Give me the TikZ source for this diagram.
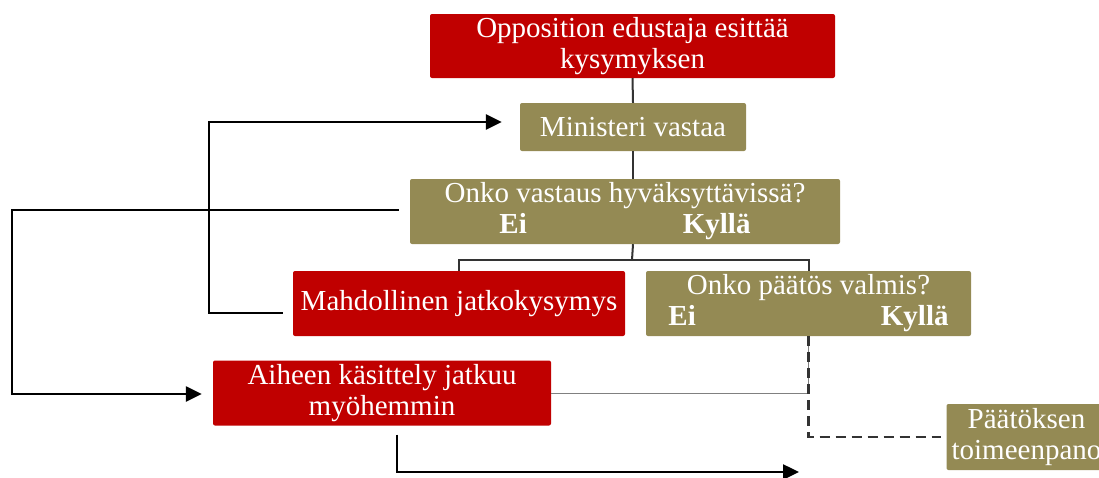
\documentclass[tikz,border=0pt]{standalone}
\usepackage{fontspec}
\setmainfont{Liberation Serif}
\usetikzlibrary{arrows.meta,calc}
\definecolor{boxred}{HTML}{C00000}
\definecolor{boxolive}{HTML}{948A54}
\definecolor{linegray}{HTML}{333333}
\begin{document}
\begin{tikzpicture}[x=1pt, y=-1pt,
    redbox/.style={fill=boxred, text=white, rounded corners=2pt, align=center,
        inner sep=0pt, font=\fontsize{29}{31}\selectfont},
    olivebox/.style={redbox, fill=boxolive},
    tree/.style={linegray, line width=2pt},
    loop/.style={black, line width=2.5pt, -{Triangle[length=16pt,width=15pt]}}]
    \useasboundingbox (0,0) rectangle (1099,477);

    % boxes
    \node[redbox, minimum width=405pt, minimum height=64pt] (opp) at (632.5,46)
        {Opposition edustaja esittää\\kysymyksen};
    \node[olivebox, minimum width=226pt, minimum height=48pt] (min) at (633,127)
        {Ministeri vastaa};
    \node[olivebox, minimum width=430pt, minimum height=65pt] (acc) at (625,211.5)
        {Onko vastaus hyväksyttävissä?\\\textbf{Ei}\hspace{156pt}\textbf{Kyllä}};
    \node[redbox, minimum width=332pt, minimum height=65pt] (follow) at (459,303.5)
        {Mahdollinen jatkokysymys};
    \node[olivebox, minimum width=325pt, minimum height=65pt] (ready) at (808.5,303.5)
        {Onko päätös valmis?\\\textbf{Ei}\hspace{185pt}\textbf{Kyllä}};
    \node[redbox, minimum width=338pt, minimum height=65pt] (later) at (382,393)
        {Aiheen käsittely jatkuu\\myöhemmin};
    \node[olivebox, minimum width=160pt, minimum height=66pt] (impl) at (1026.5,437)
        {Päätöksen\\toimeenpano};

    % tree
    \coordinate (split) at (632,260);
    \draw[tree] (opp.south) -- (min.north);
    \draw[tree] (min.south) -- (min.south |- acc.north);
    \draw[tree] (min.south |- acc.south) -- (split);
    \draw[tree] (follow.north) |- (split) -| (ready.north);

    % loops back
    \draw[loop] ($(follow.west)+(-10,9.5)$) -- ++(-74,0) |- ($(min.west)+(-18,-5)$);
    \draw[loop] ($(acc.west)+(-11,-1.5)$) -- ++(-387,0) |- ($(later.west)+(-11,1)$);

    % decision
    \draw[gray, line width=1pt] (later.east) -| (ready.south);
    \draw[linegray, line width=2.5pt, dash pattern=on 10pt off 6pt]
        (ready.south) |- ($(impl.west)+(-5,0)$);
    \coordinate (out) at (799,472);
    \draw[loop] ($(later.south)+(15,9)$) |- (out);
\end{tikzpicture}
\end{document}
